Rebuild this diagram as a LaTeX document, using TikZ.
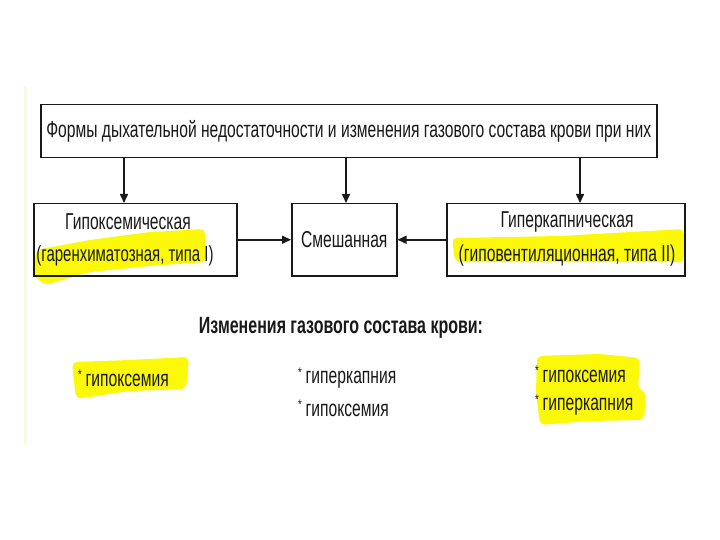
\documentclass[tikz,border=0pt]{standalone}
\usepackage{fontspec}
\setmainfont{Liberation Sans}
\newfontfamily\narrowfont[FakeStretch=0.68]{Liberation Sans}
\usetikzlibrary{arrows.meta}
\definecolor{hl}{RGB}{252,248,10}
\definecolor{ink}{RGB}{25,25,25}
\definecolor{paper}{RGB}{250,248,232}
\tikzset{
  box/.style={draw=ink, line width=1.5pt, inner sep=0pt, anchor=north west},
  lbl/.style={font=\narrowfont\fontsize{23}{26}\selectfont, text=ink, inner sep=0pt},
  item/.style={font=\narrowfont\fontsize{23}{26}\selectfont, text=ink, inner sep=0pt, anchor=west},
  arr/.style={draw=ink, line width=1.5pt, -{Triangle[length=9pt,width=8pt]}},
  marker/.style={fill=hl, draw=none, rounded corners=5pt}
}
\newcommand{\myast}{\raisebox{0.55ex}{\fontsize{14}{14}\selectfont *}\,}
\begin{document}
\begin{tikzpicture}[x=1pt,y=-1pt]
\useasboundingbox (0,0) rectangle (720,540);
\fill[white] (0,0) rectangle (720,540);
\draw[paper, line width=3pt] (25,86) -- (25,445);
% highlights
\fill[marker] (36,250) -- (90,240) -- (150,232) -- (205,229) -- (206,262) -- (150,266) -- (90,272) -- (45,285) -- (34,276) -- cycle;
\fill[marker] (452,238) -- (560,236) -- (684,229) -- (684,262) -- (560,262) -- (455,262) -- cycle;
\fill[marker] (72,362) -- (130,360) -- (189,357) -- (186,389) -- (130,391) -- (76,399) -- cycle;
\fill[marker] (537,356) -- (600,354) -- (640,358) -- (638,389) -- (646,392) -- (644,420) -- (590,421) -- (540,425) -- (536,392) -- cycle;
% boxes
\node[box, minimum width=616pt, minimum height=53pt] (top) at (40,104) {};
\node[lbl] (toptxt) at (top.center) {Формы дыхательной недостаточности и изменения газового состава крови при них};
\node[box, minimum width=203pt, minimum height=72pt] (left) at (33,203) {};
\node[box, minimum width=105pt, minimum height=72pt] (mid) at (291,203) {};
\node[box, minimum width=238pt, minimum height=72pt] (right) at (446,203) {};
\node[lbl] (l1) at (128,222) {Гипоксемическая};
\node[lbl, font=\narrowfont\fontsize{22}{26}\selectfont] (l2) at (125,256) {(гаренхиматозная, типа I)};
\node[lbl] (m1) at (mid.center) {Смешанная};
\node[lbl] (r1) at (567,222) {Гиперкапническая};
\node[lbl] (r2) at (567,256) {(гиповентиляционная, типа II)};
% arrows
\coordinate (a1) at (124,157);
\coordinate (a2) at (346,157);
\coordinate (a3) at (580,157);
\draw[arr] (a1) -- (left.north -| a1);
\draw[arr] (a2) -- (mid.north -| a2);
\draw[arr] (a3) -- (right.north -| a3);
\draw[arr] (left.east) -- (mid.west);
\draw[arr] (right.west) -- (mid.east);
% bottom texts
\node[font=\narrowfont\bfseries\fontsize{23.5}{26}\selectfont, text=ink, inner sep=0pt] (head) at (341,328) {Изменения газового состава крови:};
\node[item] (b1) at (78,378) {\myast гипоксемия};
\node[item] (b2) at (298,378) {\myast гиперкапния};
\node[item] (b3) at (298,408) {\myast гипоксемия};
\node[item] (b4) at (535,374) {\myast гипоксемия};
\node[item] (b5) at (535,405) {\myast гиперкапния};
\end{tikzpicture}
\end{document}
